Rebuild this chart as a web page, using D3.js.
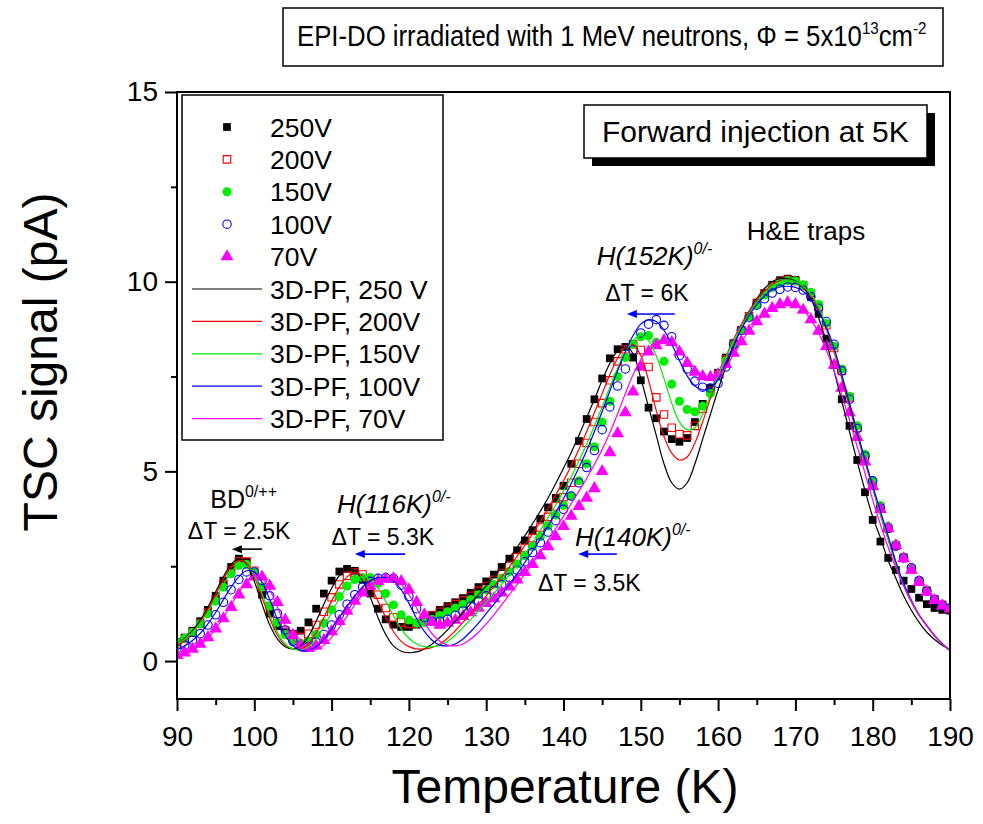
<!DOCTYPE html>
<html>
<head>
<meta charset="utf-8">
<script src="https://cdn.jsdelivr.net/npm/d3@7"></script>
<style>
body { margin: 0; background: #fff; }
svg text { font-family: "Liberation Sans", Arial, sans-serif; fill: #000; }
</style>
</head>
<body>
<div id="chart"></div>
<script>
// temperature grid (K), one reading per kelvin
let temps = d3.range(90, 191, 1)

// measured TSC signal (pA)
let v250 = [0.50,0.62,0.80,1.05,1.35,1.72,2.12,2.48,2.70,2.62,
    2.25,1.75,1.25,0.92,0.76,0.72,0.80,1.02,1.38,1.78,
    2.12,2.36,2.43,2.38,2.15,1.78,1.38,1.10,0.96,0.90,
    0.90,0.96,1.08,1.22,1.35,1.45,1.55,1.66,1.80,1.95,
    2.10,2.28,2.48,2.70,2.92,3.18,3.45,3.75,4.05,4.30,
    4.62,5.20,5.80,6.38,6.90,7.45,7.98,8.22,8.28,8.00,
    7.40,6.68,6.40,6.05,5.85,5.78,5.88,6.30,6.78,7.20,
    7.60,8.00,8.38,8.72,9.10,9.45,9.70,9.92,10.04,10.08,
    10.05,9.90,9.60,9.15,8.50,7.80,6.90,6.20,5.30,4.45,
    3.72,3.15,2.72,2.40,2.12,1.90,1.67,1.50,1.40,1.35,
    1.33]
let v200 = [0.45,0.58,0.75,0.98,1.28,1.62,2.02,2.40,2.62,2.62,
    2.38,1.95,1.45,1.05,0.80,0.68,0.63,0.72,0.95,1.30,
    1.68,2.02,2.25,2.33,2.28,2.08,1.75,1.40,1.15,1.02,
    0.98,1.00,1.08,1.20,1.30,1.40,1.50,1.60,1.72,1.85,
    1.98,2.14,2.32,2.52,2.74,2.98,3.24,3.52,3.80,4.08,
    4.32,4.70,5.20,5.75,6.30,6.80,7.40,7.90,8.22,8.35,
    8.20,7.75,6.95,6.50,6.15,5.98,5.95,6.20,6.65,7.12,
    7.55,7.95,8.35,8.72,9.08,9.42,9.68,9.88,10.00,10.05,
    10.02,9.90,9.68,9.35,8.85,8.25,7.65,6.95,6.15,5.40,
    4.70,4.05,3.50,3.05,2.72,2.42,2.10,1.85,1.62,1.48,
    1.40]
let v150 = [0.48,0.60,0.76,0.98,1.25,1.58,1.95,2.30,2.52,2.55,
    2.35,1.95,1.45,1.02,0.70,0.52,0.47,0.52,0.70,1.00,
    1.35,1.70,1.98,2.15,2.20,2.20,2.05,1.78,1.48,1.22,
    1.08,1.00,1.02,1.10,1.20,1.30,1.40,1.50,1.62,1.75,
    1.88,2.02,2.18,2.36,2.56,2.78,3.02,3.28,3.56,3.85,
    4.10,4.35,4.75,5.20,5.65,6.30,6.85,7.50,8.00,8.35,
    8.55,8.58,8.40,7.90,7.30,6.85,6.63,6.57,6.72,7.05,
    7.50,7.92,8.35,8.72,9.08,9.40,9.65,9.85,9.98,10.03,
    10.02,9.92,9.72,9.40,8.90,8.30,7.70,6.98,6.20,5.45,
    4.75,4.10,3.55,3.08,2.74,2.44,2.12,1.86,1.63,1.48,
    1.40]
let v100 = [0.33,0.42,0.55,0.72,0.95,1.22,1.55,1.88,2.15,2.35,
    2.35,2.12,1.72,1.25,0.82,0.52,0.38,0.38,0.50,0.70,
    0.95,1.22,1.50,1.75,1.95,2.10,2.18,2.20,2.18,2.00,
    1.70,1.38,1.15,1.05,1.05,1.10,1.20,1.32,1.45,1.58,
    1.72,1.86,2.02,2.20,2.40,2.62,2.86,3.12,3.40,3.70,
    4.00,4.35,4.70,5.10,5.55,6.10,6.70,7.25,7.70,8.20,
    8.65,8.88,9.00,8.85,8.55,8.05,7.70,7.38,7.22,7.20,
    7.32,7.75,8.35,8.72,9.05,9.38,9.55,9.70,9.80,9.86,
    9.85,9.78,9.60,9.30,8.95,8.35,7.65,6.90,6.13,5.40,
    4.75,4.03,3.50,3.03,2.72,2.46,2.12,1.85,1.62,1.47,
    1.40]
let v70 = [0.15,0.22,0.32,0.45,0.62,0.85,1.12,1.42,1.75,2.02,
    2.22,2.22,1.98,1.55,1.08,0.68,0.42,0.34,0.40,0.55,
    0.78,1.05,1.32,1.58,1.80,1.98,2.10,2.16,2.17,2.10,
    1.88,1.55,1.22,1.02,0.95,1.00,1.08,1.18,1.28,1.40,
    1.52,1.65,1.80,1.96,2.14,2.34,2.55,2.78,3.02,3.28,
    3.55,3.82,4.08,4.30,4.55,5.00,5.50,6.00,6.55,7.10,
    7.75,8.15,8.32,8.45,8.40,8.15,7.85,7.62,7.50,7.48,
    7.55,7.82,8.12,8.42,8.70,8.95,9.15,9.30,9.40,9.45,
    9.40,9.25,9.00,8.70,8.30,7.80,7.20,6.55,5.90,5.25,
    4.60,4.00,3.50,3.05,2.70,2.40,2.08,1.82,1.60,1.46,
    1.38]

// 3D-PF simulations (pA)
let f250 = [0.45,0.60,0.80,1.08,1.42,1.82,2.22,2.55,2.70,2.55,
    2.10,1.50,0.95,0.58,0.38,0.32,0.40,0.65,1.05,1.50,
    1.92,2.25,2.42,2.38,2.12,1.68,1.15,0.70,0.40,0.26,
    0.22,0.24,0.32,0.45,0.62,0.82,1.05,1.28,1.52,1.75,
    1.98,2.22,2.46,2.72,3.00,3.30,3.62,3.95,4.30,4.68,
    5.08,5.50,5.95,6.42,6.90,7.40,7.85,8.18,8.30,8.10,
    7.45,6.70,5.95,5.20,4.70,4.53,4.70,5.20,5.85,6.50,
    7.15,7.75,8.30,8.78,9.20,9.55,9.82,10.00,10.08,10.08,
    10.02,9.85,9.55,9.05,8.40,7.65,6.85,6.05,5.25,4.50,
    3.80,3.25,2.65,2.18,1.72,1.34,1.02,0.76,0.57,0.42,
    0.30]
let f200 = [0.40,0.55,0.75,1.02,1.35,1.75,2.15,2.48,2.65,2.58,
    2.22,1.68,1.12,0.68,0.42,0.32,0.32,0.45,0.75,1.15,
    1.58,1.95,2.22,2.33,2.25,1.98,1.58,1.15,0.78,0.52,
    0.38,0.32,0.32,0.36,0.45,0.60,0.80,1.02,1.25,1.48,
    1.72,1.96,2.22,2.48,2.76,3.05,3.35,3.68,4.02,4.38,
    4.75,5.15,5.58,6.05,6.55,7.05,7.55,7.98,8.28,8.35,
    8.05,7.40,6.60,5.92,5.48,5.30,5.38,5.75,6.30,6.92,
    7.50,8.02,8.48,8.88,9.22,9.52,9.75,9.92,10.02,10.05,
    10.00,9.88,9.65,9.28,8.75,8.15,7.45,6.70,5.95,5.25,
    4.55,3.85,3.20,2.55,2.00,1.55,1.20,0.92,0.66,0.45,
    0.28]
let f150 = [0.45,0.58,0.76,1.00,1.30,1.65,2.02,2.35,2.55,2.52,
    2.25,1.78,1.22,0.75,0.45,0.32,0.30,0.38,0.58,0.90,
    1.28,1.65,1.95,2.15,2.22,2.15,1.92,1.58,1.20,0.85,
    0.60,0.45,0.38,0.38,0.42,0.52,0.68,0.88,1.10,1.32,
    1.55,1.78,2.02,2.28,2.55,2.82,3.12,3.44,3.78,4.12,
    4.48,4.86,5.28,5.72,6.20,6.70,7.22,7.72,8.15,8.45,
    8.58,8.45,8.05,7.45,6.80,6.30,6.10,6.15,6.50,7.00,
    7.52,8.00,8.42,8.80,9.15,9.45,9.70,9.88,10.00,10.05,
    10.00,9.88,9.68,9.35,8.82,8.22,7.55,6.82,6.05,5.30,
    4.58,3.88,3.22,2.58,2.02,1.56,1.20,0.92,0.66,0.45,
    0.28]
let f100 = [0.30,0.40,0.54,0.73,0.98,1.28,1.62,1.95,2.22,2.38,
    2.35,2.08,1.62,1.10,0.68,0.40,0.28,0.28,0.38,0.58,
    0.85,1.15,1.45,1.72,1.95,2.12,2.20,2.20,2.12,1.88,
    1.52,1.12,0.78,0.55,0.42,0.40,0.45,0.58,0.78,1.00,
    1.25,1.50,1.76,2.02,2.30,2.60,2.90,3.22,3.56,3.92,
    4.28,4.68,5.10,5.55,6.05,6.58,7.12,7.65,8.15,8.58,
    8.88,9.00,8.95,8.72,8.35,7.92,7.52,7.25,7.15,7.20,
    7.42,7.85,8.32,8.75,9.10,9.40,9.62,9.78,9.86,9.88,
    9.85,9.75,9.55,9.22,8.80,8.25,7.55,6.80,6.02,5.32,
    4.62,3.95,3.30,2.62,2.05,1.60,1.22,0.94,0.68,0.46,
    0.28]
let f70 = [0.12,0.18,0.28,0.42,0.60,0.85,1.15,1.48,1.82,2.10,
    2.25,2.18,1.88,1.42,0.95,0.58,0.36,0.28,0.30,0.42,
    0.62,0.88,1.18,1.48,1.75,1.98,2.12,2.18,2.15,2.02,
    1.75,1.40,1.02,0.72,0.52,0.42,0.40,0.45,0.58,0.76,
    0.98,1.22,1.48,1.75,2.02,2.30,2.58,2.88,3.18,3.50,
    3.82,4.15,4.48,4.82,5.18,5.58,6.02,6.52,7.05,7.55,
    7.95,8.25,8.40,8.45,8.38,8.20,7.95,7.70,7.52,7.45,
    7.52,7.75,8.08,8.40,8.70,8.95,9.15,9.30,9.40,9.45,
    9.40,9.25,9.00,8.65,8.20,7.65,7.02,6.35,5.65,4.95,
    4.25,3.60,3.00,2.45,1.98,1.58,1.22,0.94,0.68,0.46,
    0.29]

let dataLabels = ["250V", "200V", "150V", "100V", "70V"]
let fitLabels = ["3D-PF, 250 V", "3D-PF, 200V", "3D-PF, 150V", "3D-PF, 100V", "3D-PF, 70V"]
let xTicks = [90, 100, 110, 120, 130, 140, 150, 160, 170, 180, 190]
let yTicks = [0, 5, 10, 15]

let series = [
    {label: dataLabels[0], fitLabel: fitLabels[0], color: "#000000", shape: d3.symbolSquare, filled: true, values: v250, fit: f250},
    {label: dataLabels[1], fitLabel: fitLabels[1], color: "#ff0000", shape: d3.symbolSquare, filled: false, values: v200, fit: f200},
    {label: dataLabels[2], fitLabel: fitLabels[2], color: "#00ee00", shape: d3.symbolCircle, filled: true, values: v150, fit: f150},
    {label: dataLabels[3], fitLabel: fitLabels[3], color: "#0000ff", shape: d3.symbolCircle, filled: false, values: v100, fit: f100},
    {label: dataLabels[4], fitLabel: fitLabels[4], color: "#ff00ff", shape: d3.symbolTriangle, filled: true, values: v70, fit: f70}
]

function symbolSize(s) {
    if (s.shape === d3.symbolSquare) return s.filled ? 60 : 56
    if (s.shape === d3.symbolCircle) return s.filled ? 64 : 56
    return 72
}

let svg = d3.select("#chart").append("svg")
    .attr("width", 983)
    .attr("height", 824)

let x = d3.scaleLinear().domain([90, 190]).range([177, 950])
let y = d3.scaleLinear().domain([-1, 15]).range([699, 92])

// title box
svg.append("rect")
    .attr("x", 283).attr("y", 8).attr("width", 660).attr("height", 58)
    .attr("fill", "#fff").attr("stroke", "#000").attr("stroke-width", 1.5)
let title = svg.append("text").attr("font-size", 29)
title.append("tspan").text("EPI-DO irradiated with 1 MeV neutrons, \u03A6 = 5x10")
title.append("tspan").attr("dy", -12).attr("font-size", 17).text("13")
title.append("tspan").attr("dy", 12).text("cm")
title.append("tspan").attr("dy", -12).attr("font-size", 17).text("-2")
let tw = title.node().getBBox().width
title.attr("transform", "translate(297,46) scale(" + (630 / tw) + ",1)")

// clip to plot area
svg.append("defs").append("clipPath").attr("id", "clip")
    .append("rect")
    .attr("x", x(90)).attr("y", y(15))
    .attr("width", x(190) - x(90)).attr("height", y(-1) - y(15))

let plot = svg.append("g").attr("clip-path", "url(#clip)")

// measured points
series.forEach(function(s) {
    plot.append("g").selectAll("path")
        .data(s.values)
        .join("path")
        .attr("transform", (d, i) => "translate(" + x(temps[i]) + "," + y(d) + ")")
        .attr("d", d3.symbol().type(s.shape).size(symbolSize(s)))
        .attr("fill", s.filled ? s.color : "none")
        .attr("stroke", s.filled ? "none" : s.color)
        .attr("stroke-width", 1.1)
})

// simulated curves
let line = d3.line()
    .x((d, i) => x(temps[i]))
    .y(d => y(d))
    .curve(d3.curveCatmullRom)
series.forEach(function(s) {
    plot.append("path")
        .datum(s.fit)
        .attr("fill", "none")
        .attr("stroke", s.color)
        .attr("stroke-width", 1.2)
        .attr("d", line)
})

// frame
svg.append("rect")
    .attr("x", x(90)).attr("y", y(15))
    .attr("width", x(190) - x(90)).attr("height", y(-1) - y(15))
    .attr("fill", "none").attr("stroke", "#000").attr("stroke-width", 2)

// axes
let xAxis = svg.append("g")
    .attr("transform", "translate(0," + y(-1) + ")")
    .call(d3.axisBottom(x).tickValues(xTicks).tickSize(12).tickFormat(d3.format("d")))
xAxis.append("g")
    .call(d3.axisBottom(x).tickValues(d3.range(95, 190, 10)).tickSize(6).tickFormat(""))
let yAxis = svg.append("g")
    .attr("transform", "translate(" + x(90) + ",0)")
    .call(d3.axisLeft(y).tickValues(yTicks).tickSize(12))
yAxis.append("g")
    .call(d3.axisLeft(y).tickValues([2.5, 7.5, 12.5]).tickSize(6).tickFormat(""))
svg.selectAll(".domain").remove()
svg.selectAll(".tick line").attr("stroke", "#000").attr("stroke-width", 2)
xAxis.selectAll("text").attr("font-size", 28).attr("y", 27).attr("fill", "#000")
    .style("font-family", "'Liberation Sans', Arial, sans-serif")
yAxis.selectAll("text").attr("font-size", 28).attr("x", -19).attr("fill", "#000")
    .style("font-family", "'Liberation Sans', Arial, sans-serif")

// axis titles
svg.append("text")
    .attr("transform", "translate(57,362) rotate(-90)")
    .attr("text-anchor", "middle").attr("font-size", 48)
    .text("TSC signal (pA)")
svg.append("text")
    .attr("x", 565).attr("y", 803)
    .attr("text-anchor", "middle").attr("font-size", 48)
    .text("Temperature (K)")

// legend
let legend = svg.append("g")
legend.append("rect")
    .attr("x", 182).attr("y", 95).attr("width", 261).attr("height", 345)
    .attr("fill", "#fff").attr("stroke", "#000").attr("stroke-width", 1.5)
series.forEach(function(s, i) {
    let ly = 127 + i * 32.4
    legend.append("path")
        .attr("transform", "translate(227," + ly + ")")
        .attr("d", d3.symbol().type(s.shape).size(symbolSize(s)))
        .attr("fill", s.filled ? s.color : "none")
        .attr("stroke", s.filled ? "none" : s.color)
        .attr("stroke-width", 1.1)
    legend.append("text").attr("x", 270).attr("y", ly + 9.5).attr("font-size", 26.5).text(s.label)
})
series.forEach(function(s, i) {
    let ly = 127 + (i + 5) * 32.4
    legend.append("line")
        .attr("x1", 192).attr("x2", 262).attr("y1", ly).attr("y2", ly)
        .attr("stroke", s.color).attr("stroke-width", 1.2)
    legend.append("text").attr("x", 270).attr("y", ly + 9.5).attr("font-size", 26.5).text(s.fitLabel)
})

// "Forward injection" box with shadow
svg.append("rect")
    .attr("x", 592).attr("y", 113).attr("width", 343).attr("height", 53).attr("fill", "#000")
svg.append("rect")
    .attr("x", 584).attr("y", 105).attr("width", 343).attr("height", 53)
    .attr("fill", "#fff").attr("stroke", "#000").attr("stroke-width", 1.5)
svg.append("text").attr("x", 602).attr("y", 142).attr("font-size", 30).text("Forward injection at 5K")

// annotations (placed in data coordinates)
function label(T, v, main, sup, color, italic, size) {
    let t = svg.append("text")
        .attr("x", x(T)).attr("y", y(v))
        .attr("font-size", size)
        .attr("fill", color)
        .attr("font-style", italic ? "italic" : "normal")
    t.append("tspan").text(main)
    if (sup) t.append("tspan").attr("dy", -11).attr("font-size", 16).text(sup)
}
function arrow(T1, T2, v, color) {
    let yy = y(v)
    svg.append("line")
        .attr("x1", x(T1)).attr("x2", x(T2) + 8).attr("y1", yy).attr("y2", yy)
        .attr("stroke", color).attr("stroke-width", 1.6)
    svg.append("path")
        .attr("d", "M" + x(T2) + "," + yy + "l10,-4l0,8z")
        .attr("fill", color)
}

label(94.3, 4.03, "BD", "0/++", "#000", false, 25)
label(91.4, 3.22, "\u0394T = 2.5K", null, "#000", false, 23)
arrow(101.0, 97.1, 2.95, "#000")

label(110.7, 3.9, "H(116K)", "0/-", "#0000ff", true, 26)
label(110.0, 3.06, "\u0394T = 5.3K", null, "#000", false, 23)
arrow(119.5, 113.0, 2.82, "#0000ff")

label(141.5, 3.03, "H(140K)", "0/-", "#0000ff", true, 26)
arrow(146.9, 141.9, 2.82, "#0000ff")
label(136.7, 1.85, "\u0394T = 3.5K", null, "#000", false, 23)

label(144.3, 10.44, "H(152K)", "0/-", "#0000ff", true, 26)
label(145.4, 9.49, "\u0394T = 6K", null, "#000", false, 23)
arrow(154.4, 148.2, 9.15, "#0000ff")

label(163.7, 11.1, "H&E traps", null, "#000", false, 26)
</script>
</body>
</html>
